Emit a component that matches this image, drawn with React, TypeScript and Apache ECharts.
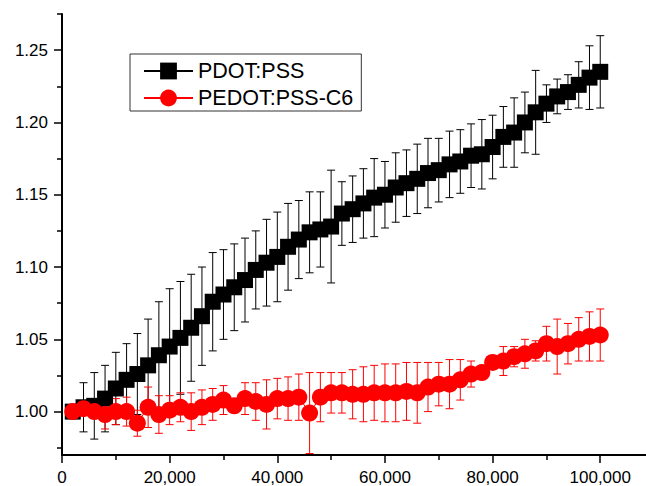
import React, { useEffect, useRef } from 'react';
import * as echarts from 'echarts';

const xValues = [
  2000, 4000, 6000, 8000, 10000, 12000, 14000, 16000, 18000, 20000,
  22000, 24000, 26000, 28000, 30000, 32000, 34000, 36000, 38000, 40000,
  42000, 44000, 46000, 48000, 50000, 52000, 54000, 56000, 58000, 60000,
  62000, 64000, 66000, 68000, 70000, 72000, 74000, 76000, 78000, 80000,
  82000, 84000, 86000, 88000, 90000, 92000, 94000, 96000, 98000, 100000,
];

const pdotValues = [
  1.000, 1.003, 1.004, 1.009, 1.016, 1.022, 1.026, 1.032, 1.039, 1.045,
  1.051, 1.058, 1.066, 1.076, 1.081, 1.086, 1.091, 1.098, 1.103, 1.107,
  1.114, 1.119, 1.124, 1.126, 1.128, 1.137, 1.140, 1.144, 1.148, 1.150,
  1.155, 1.158, 1.161, 1.165, 1.167, 1.171, 1.173, 1.177, 1.178, 1.183,
  1.190, 1.193, 1.200, 1.207, 1.213, 1.218, 1.221, 1.226, 1.231, 1.235,
];
const pdotErrors = [
  0.000, 0.017, 0.023, 0.023, 0.025, 0.025, 0.028, 0.032, 0.037, 0.040,
  0.039, 0.037, 0.034, 0.034, 0.031, 0.030, 0.029, 0.027, 0.030, 0.031,
  0.030, 0.027, 0.028, 0.026, 0.039, 0.022, 0.023, 0.024, 0.027, 0.023,
  0.024, 0.023, 0.024, 0.024, 0.022, 0.023, 0.022, 0.022, 0.024, 0.022,
  0.021, 0.024, 0.021, 0.029, 0.013, 0.012, 0.012, 0.016, 0.022, 0.025,
];

const pedotValues = [
  1.000, 1.002, 1.000, 0.998, 1.000, 1.000, 0.992, 1.003, 0.998, 1.001,
  1.003, 1.000, 1.003, 1.005, 1.008, 1.004, 1.009, 1.007, 1.005, 1.009,
  1.009, 1.010, 0.999, 1.010, 1.013, 1.013, 1.012, 1.012, 1.013, 1.013,
  1.013, 1.014, 1.013, 1.017, 1.019, 1.019, 1.022, 1.026, 1.027, 1.034,
  1.035, 1.038, 1.040, 1.042, 1.047, 1.045, 1.047, 1.050, 1.052, 1.053,
];
const pedotErrors = [
  0.000, 0.003, 0.004, 0.010, 0.009, 0.010, 0.009, 0.014, 0.013, 0.010,
  0.010, 0.013, 0.012, 0.011, 0.010, 0.004, 0.011, 0.013, 0.017, 0.014,
  0.015, 0.016, 0.028, 0.017, 0.014, 0.014, 0.017, 0.019, 0.019, 0.020,
  0.020, 0.020, 0.021, 0.017, 0.015, 0.017, 0.014, 0.009, 0.004, 0.004,
  0.010, 0.007, 0.010, 0.007, 0.012, 0.019, 0.014, 0.015, 0.017, 0.018,
];

const seriesNames = ['PDOT:PSS', 'PEDOT:PSS-C6'];
const xMajorTicks = [0, 20000, 40000, 60000, 80000, 100000];
const xMinorTicks = [10000, 30000, 50000, 70000, 90000];
const yMajorTicks = [1.0, 1.05, 1.1, 1.15, 1.2, 1.25];
const yMinorTicks = [0.975, 1.025, 1.075, 1.125, 1.175, 1.225, 1.275];

const FONT = '"Liberation Sans", Arial, Helvetica, sans-serif';

function errRender(color: string) {
  return (params: any, api: any) => {
    const x = api.value(0);
    const lo = api.value(1);
    const hi = api.value(2);
    if (!(hi - lo > 0)) return null;
    const top = api.coord([x, hi]);
    const bot = api.coord([x, lo]);
    const w = 4;
    const style = { stroke: color, lineWidth: 1 };
    return {
      type: 'group',
      children: [
        { type: 'line', shape: { x1: top[0], y1: top[1], x2: bot[0], y2: bot[1] }, style },
        { type: 'line', shape: { x1: top[0] - w, y1: top[1], x2: top[0] + w, y2: top[1] }, style },
        { type: 'line', shape: { x1: bot[0] - w, y1: bot[1], x2: bot[0] + w, y2: bot[1] }, style },
      ],
    };
  };
}

export default function App() {
  const ref = useRef<HTMLDivElement>(null);
  useEffect(() => {
    if (!ref.current) return;
    const chart = echarts.init(ref.current, null, { renderer: 'svg' });
    const xMin = 0;
    const xMax = 108500;
    const yMin = 0.97;
    const yMax = 1.275;
    const axisLine = { show: true, lineStyle: { color: '#000', width: 2 } };
    chart.setOption({
      animation: false,
      backgroundColor: '#fff',
      grid: { left: 62, right: 0, top: 14, bottom: 31, outerBoundsMode: 'none' },
      legend: {
        orient: 'vertical',
        left: 130,
        top: 54,
        data: seriesNames,
        itemWidth: 49,
        itemHeight: 21,
        itemGap: 5,
        padding: [6, 8, 2, 13],
        borderColor: '#333',
        borderWidth: 1,
        align: 'left',
        textStyle: { fontSize: 21.5, color: '#000', fontFamily: FONT, lineHeight: 21 },
      },
      xAxis: [
        {
          type: 'value',
          position: 'bottom',
          min: xMin,
          max: xMax,
          minInterval: 20000,
          maxInterval: 20000,
          axisLine,
          splitLine: { show: false },
          axisTick: { show: true, length: 8, lineStyle: { color: '#000', width: 1.5 }, customValues: xMajorTicks },
          axisLabel: {
            show: true,
            customValues: xMajorTicks,
            margin: 14.5,
            fontSize: 17,
            lineHeight: 16,
            color: '#000',
            fontFamily: FONT,
            formatter: (v: number) => v.toLocaleString('en-US'),
          },
        },
        {
          type: 'value',
          position: 'bottom',
          min: xMin,
          max: xMax,
          minInterval: 20000,
          maxInterval: 20000,
          axisLine: { show: false },
          splitLine: { show: false },
          axisTick: { show: true, length: 5, lineStyle: { color: '#000', width: 1.5 }, customValues: xMinorTicks },
          axisLabel: { show: false },
        },
      ],
      yAxis: [
        {
          type: 'value',
          position: 'left',
          min: yMin,
          max: yMax,
          minInterval: 0.05,
          maxInterval: 0.05,
          axisLine,
          splitLine: { show: false },
          axisTick: { show: true, length: 8, lineStyle: { color: '#000', width: 1.5 }, customValues: yMajorTicks },
          axisLabel: {
            show: true,
            customValues: yMajorTicks,
            margin: 14,
            fontSize: 17,
            color: '#000',
            fontFamily: FONT,
            formatter: (v: number) => v.toFixed(2),
          },
        },
        {
          type: 'value',
          position: 'left',
          min: yMin,
          max: yMax,
          minInterval: 0.05,
          maxInterval: 0.05,
          axisLine: { show: false },
          splitLine: { show: false },
          axisTick: { show: true, length: 5, lineStyle: { color: '#000', width: 1.5 }, customValues: yMinorTicks },
          axisLabel: { show: false },
        },
      ],
      series: [
        {
          name: 'PDOT:PSS error',
          type: 'custom',
          xAxisIndex: 0,
          yAxisIndex: 0,
          encode: { x: 0, y: [1, 2] },
          renderItem: errRender('#000'),
          data: xValues.map((x, i) => [x, pdotValues[i] - pdotErrors[i], pdotValues[i] + pdotErrors[i]]),
        },
        {
          name: seriesNames[0],
          type: 'line',
          xAxisIndex: 0,
          yAxisIndex: 0,
          symbol: 'rect',
          symbolSize: 16,
          showSymbol: true,
          itemStyle: { color: '#000' },
          lineStyle: { color: '#000', width: 1 },
          data: xValues.map((x, i) => [x, pdotValues[i]]),
        },
        {
          name: 'PEDOT:PSS-C6 error',
          type: 'custom',
          xAxisIndex: 0,
          yAxisIndex: 0,
          encode: { x: 0, y: [1, 2] },
          renderItem: errRender('#ff0000'),
          data: xValues.map((x, i) => [x, pedotValues[i] - pedotErrors[i], pedotValues[i] + pedotErrors[i]]),
        },
        {
          name: seriesNames[1],
          type: 'line',
          xAxisIndex: 0,
          yAxisIndex: 0,
          symbol: 'circle',
          symbolSize: 17,
          showSymbol: true,
          itemStyle: { color: '#ff0000' },
          lineStyle: { color: '#ff0000', width: 1 },
          data: xValues.map((x, i) => [x, pedotValues[i]]),
        },
      ],
    });
    return () => chart.dispose();
  }, []);
  return (
    <div
      ref={ref}
      style={{ position: 'fixed', left: 0, top: 0, width: 646, height: 486, background: '#fff' }}
    />
  );
}
